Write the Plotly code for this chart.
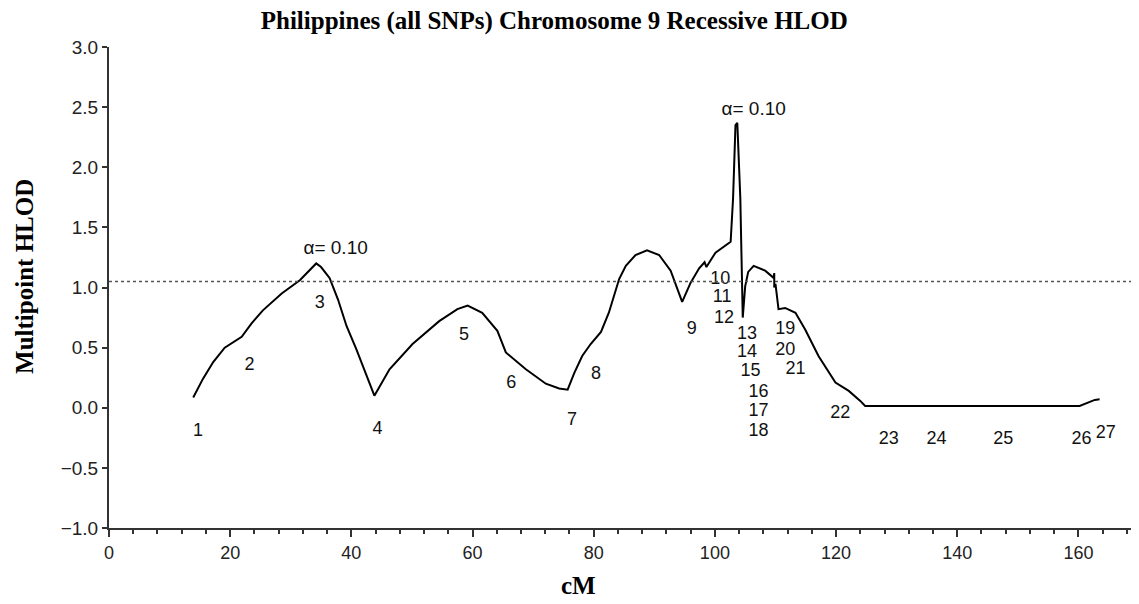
import plotly.graph_objects as go

# HLOD curve (cM, HLOD)
cm = [13.9, 15.5, 17.2, 19.1, 21.9, 23.5, 25.4, 28.5, 31.5, 33.3, 34.2, 35.0, 36.4,
      37.8, 39.2, 40.8, 42.3, 43.8, 46.3, 50.1, 54.5, 57.5, 59.2, 61.6, 64.1, 65.5,
      68.8, 72.1, 74.3, 75.7, 76.8, 78.1, 79.5, 81.2, 82.5, 84.2, 85.3, 86.9, 88.8,
      90.8, 92.7, 94.6, 96.0, 97.4, 98.3, 98.6, 100.1, 101.2, 102.6, 103.0, 103.4,
      103.7, 104.2, 104.6, 105.0, 105.5, 106.4, 108.3, 109.7, 109.8, 109.8, 110.0,
      110.5, 111.6, 113.3, 114.9, 117.1, 119.9, 122.1, 124.0, 124.8, 160.2, 162.7, 163.5]
hlod = [0.085, 0.24, 0.38, 0.50, 0.59, 0.70, 0.81, 0.95, 1.06, 1.15, 1.20, 1.17, 1.08,
        0.90, 0.68, 0.49, 0.30, 0.10, 0.32, 0.53, 0.72, 0.82, 0.85, 0.79, 0.64, 0.46,
        0.32, 0.20, 0.16, 0.15, 0.29, 0.43, 0.53, 0.63, 0.79, 1.07, 1.18, 1.27, 1.31,
        1.27, 1.14, 0.88, 1.04, 1.16, 1.21, 1.17, 1.29, 1.33, 1.38, 1.74, 2.35,
        2.37, 1.74, 0.75, 1.01, 1.13, 1.18, 1.14, 1.08, 1.12, 1.00, 1.03,
        0.82, 0.83, 0.79, 0.65, 0.43, 0.21, 0.14, 0.057, 0.015, 0.015, 0.065, 0.07]

# marker labels
marker_names = [str(i) for i in range(1, 28)]
marker_x = [14.7, 23.2, 34.8, 44.3, 58.6, 66.4, 76.4, 80.4, 96.2, 100.9, 101.2, 101.5,
            105.3, 105.3, 105.9, 107.2, 107.2, 107.2, 111.6, 111.6, 113.3, 120.7,
            128.7, 136.6, 147.6, 160.5, 164.5]
marker_y = [-0.20, 0.35, 0.87, -0.18, 0.60, 0.20, -0.11, 0.28, 0.65, 1.07, 0.92, 0.74,
            0.61, 0.46, 0.30, 0.13, -0.03, -0.20, 0.65, 0.48, 0.32, -0.05,
            -0.26, -0.26, -0.26, -0.26, -0.21]

threshold = 1.05
alpha_x = [37.4, 106.4]
alpha_y = [1.32, 2.47]
alpha_text = ["α= 0.10", "α= 0.10"]

sans = "Liberation Sans, Arial"
serif = "Liberation Serif, Times New Roman"

fig = go.Figure()

fig.add_trace(go.Scatter(x=cm, y=hlod, mode="lines",
                         line=dict(color="black", width=2), showlegend=False))

fig.add_trace(go.Scatter(x=marker_x, y=marker_y, mode="text", text=marker_names,
                         textfont=dict(family=sans, size=18, color="#111"),
                         showlegend=False))

fig.add_trace(go.Scatter(x=alpha_x, y=alpha_y, mode="text", text=alpha_text,
                         textfont=dict(family=sans, size=19, color="#111"),
                         showlegend=False))

# Schwellenlinie
fig.add_shape(type="line", xref="x", yref="y", x0=0, x1=170, y0=threshold, y1=threshold,
              line=dict(color="#555", width=1.5, dash="dot"))

# Achsentitel
fig.add_annotation(text="<b>Multipoint HLOD</b>", xref="paper", yref="paper",
                   x=0, y=0.522, xshift=-84, textangle=-90, showarrow=False,
                   xanchor="center", yanchor="middle",
                   font=dict(family=serif, size=25, color="black"))
fig.add_annotation(text="<b>cM</b>", xref="paper", yref="paper",
                   x=0.456, y=0, yshift=-57, showarrow=False,
                   xanchor="center", yanchor="middle",
                   font=dict(family=serif, size=25, color="black"))

fig.update_layout(
    width=1131, height=596,
    margin=dict(l=101, r=0, t=39, b=76),
    plot_bgcolor="white", paper_bgcolor="white",
    title=dict(text="<b>Philippines (all SNPs) Chromosome 9 Recessive HLOD</b>",
               x=0.483, xanchor="center", y=0.98, yanchor="middle",
               font=dict(family=serif, size=25, color="black")),
)

fig.update_xaxes(
    range=[0, 170], tickvals=[0, 20, 40, 60, 80, 100, 120, 140, 160],
    showgrid=False, zeroline=False,
    showline=True, linecolor="#333", linewidth=2,
    ticks="outside", ticklen=7, tickwidth=1.5, tickcolor="#333",
    minor=dict(dtick=4, tick0=0, ticks="outside", ticklen=4, tickcolor="#333"),
    tickfont=dict(family=sans, size=18, color="#222"),
)

fig.update_yaxes(
    range=[-1, 3], tickvals=[-1, -0.5, 0, 0.5, 1, 1.5, 2, 2.5, 3], tickformat=".1f",
    showgrid=False, zeroline=False,
    showline=True, linecolor="#333", linewidth=2,
    ticks="outside", ticklen=5, tickwidth=1.5, tickcolor="#333",
    tickfont=dict(family=sans, size=19, color="#222"),
)

fig.write_html("out.html")
